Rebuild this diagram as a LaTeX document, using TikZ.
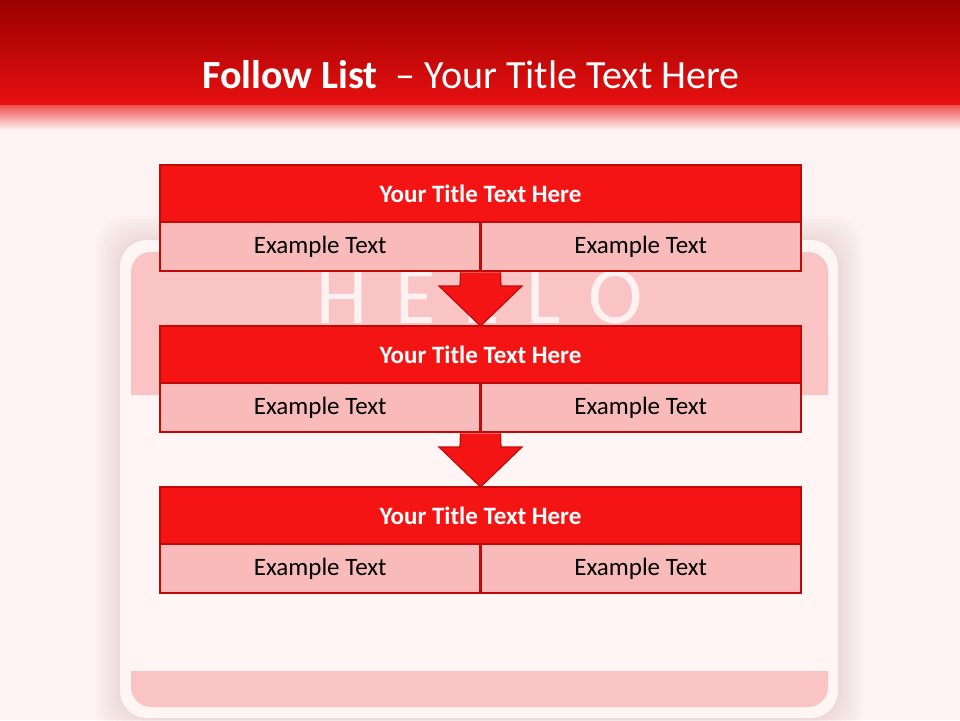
\documentclass[tikz,border=0pt]{standalone}
\usepackage{fontspec}
\setmainfont{Carlito}
\usetikzlibrary{positioning}
\definecolor{bgc}{HTML}{FDF3F2}
\definecolor{cardc}{HTML}{FEF5F4}
\definecolor{tagpink}{HTML}{FBC4C4}
\definecolor{hdrtop}{HTML}{9A0000}
\definecolor{hdrbot}{HTML}{E81010}
\definecolor{titlered}{HTML}{F41414}
\definecolor{cellpink}{HTML}{F9BABA}
\definecolor{edgered}{HTML}{C00A0A}
\definecolor{hellowhite}{HTML}{FEF1F1}
\definecolor{shadowc}{HTML}{B08080}
\tikzset{
  titlebox/.style={draw=edgered, line width=2.5pt, fill=titlered, minimum width=641pt, minimum height=57pt, inner sep=0pt, outer sep=0pt, text=white, font=\fontsize{25}{30}\selectfont\bfseries},
  cellbox/.style={draw=edgered, line width=2.5pt, fill=cellpink, minimum width=320.5pt, minimum height=49pt, inner sep=0pt, outer sep=0pt, text=black, font=\fontsize{25}{30}\selectfont},
  flowarrow/.style={draw=edgered, line width=1.2pt, fill=titlered, line join=miter}
}
\begin{document}
\begin{tikzpicture}[x=1pt,y=-1pt]
\useasboundingbox (0,0) rectangle (960,720);
\fill[bgc] (0,0) rectangle (960,720);
% header
\shade[top color=hdrtop, bottom color=hdrbot] (0,0) rectangle (960,106);
\shade[top color=hdrbot!70!bgc, bottom color=bgc] (0,105.5) rectangle (960,130);
\node[text=white, font=\fontsize{40}{48}\selectfont] (hdr) at (471,75) {\textbf{Follow List}\ \ – Your Title Text Here};
% card shadow
\foreach \s in {24,21,...,0}{
  \fill[shadowc, opacity=0.025, rounded corners=30pt] (120-\s,240-\s) rectangle (838+\s,718+\s);
}
\fill[cardc, rounded corners=27pt] (120,240) rectangle (838,718);
% top pink band with rounded top corners
\fill[tagpink] (131,395) -- (131,272) arc[start angle=180, end angle=270, radius=20] -- (808,252) arc[start angle=270, end angle=360, radius=20] -- (828,395) -- cycle;
% bottom pink band
\fill[tagpink] (131,671) -- (828,671) -- (828,687) arc[start angle=0, end angle=90, radius=20] -- (151,707) arc[start angle=90, end angle=180, radius=20] -- cycle;
\node[text=hellowhite, font=\fontsize{82}{90}\selectfont, inner sep=0pt, text depth=0pt, anchor=base] (hello) at (480,323) {H\hspace{28pt}E\hspace{28pt}L\hspace{28pt}L\hspace{28pt}O};
% blocks
\foreach \i/\t in {1/165,2/326,3/487}{
  \node[titlebox] (t\i) at (480.5,\t+28.5) {Your Title Text Here};
  \node[cellbox, anchor=north east] (l\i) at (t\i.south) {Example Text};
  \node[cellbox, anchor=north west] (r\i) at (t\i.south) {Example Text};
}
% arrows
\foreach \a/\b/\h in {1/2/286,2/3/447}{
  \coordinate (s\a) at (l\a.south east);
  \coordinate (e\a) at (t\b.north);
  \draw[flowarrow] ([xshift=-20pt,yshift=-1.3pt]s\a) -- (460,\h) -- (439,\h) -- (e\a) -- (522,\h) -- (501,\h) -- ([xshift=20pt,yshift=-1.3pt]s\a);
}
\end{tikzpicture}
\end{document}
